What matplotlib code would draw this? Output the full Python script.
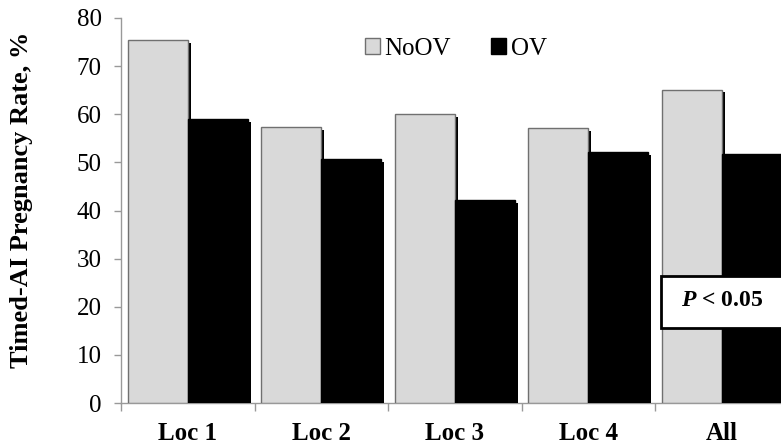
import numpy as np
import matplotlib
matplotlib.use('Agg')
import matplotlib.pyplot as plt
import matplotlib.patheffects as pe
from matplotlib.patches import Rectangle, Patch

# datos
locs = ['Loc 1', 'Loc 2', 'Loc 3', 'Loc 4', 'All']
noov = [75.4, 57.4, 60.0, 57.2, 65.1]
ov = [59.0, 50.7, 42.1, 52.2, 51.7]
yticks = [0, 10, 20, 30, 40, 50, 60, 70, 80]

plt.rcParams['font.family'] = 'Liberation Serif'
plt.rcParams['mathtext.fontset'] = 'custom'
plt.rcParams['mathtext.it'] = 'Liberation Serif:italic:bold'

fig = plt.figure(figsize=(7.81, 4.47), dpi=100)
# el eje se sale un poco del lado derecho, como en la original
ax = fig.add_axes([121/781, 44/447, 667.5/781, 385/447])

x = np.arange(len(locs))
w = 0.45
sombra = [pe.SimplePatchShadow(offset=(2, -2), shadow_rgbFace='black', alpha=1.0), pe.Normal()]

b1 = ax.bar(x - w/2, noov, w, color='#d9d9d9', edgecolor='#707070', linewidth=1.0, zorder=3)
b2 = ax.bar(x + w/2, ov, w, color='black', edgecolor='black', linewidth=1.0, zorder=3)
for b in list(b1) + list(b2):
    b.set_path_effects(sombra)

ax.set_xlim(-0.5, len(locs) - 0.5)
ax.set_ylim(0, 80)
ax.set_yticks(yticks)
ax.tick_params(axis='y', labelsize=18, length=5, width=1, color='#999999', direction='out', pad=9)

# ticks del eje x entre categorias
ax.set_xticks(np.arange(len(locs) + 1) - 0.5)
ax.set_xticklabels([])
ax.tick_params(axis='x', length=6, width=1, color='#999999', direction='out')
for i, nombre in enumerate(locs):
    ax.text(i, -6.3, nombre, ha='center', va='center', fontsize=18, fontweight='bold',
            clip_on=False)

for s in ['top', 'right']:
    ax.spines[s].set_visible(False)
for s in ['left', 'bottom']:
    ax.spines[s].set_color('#999999')
    ax.spines[s].set_linewidth(1)

ax.set_ylabel('Timed-AI Pregnancy Rate, %', fontsize=19, fontweight='bold')
ax.yaxis.set_label_coords(-0.132, 0.527)

# leyenda sin sombra
handles = [Patch(facecolor='#d9d9d9', edgecolor='#707070', label='NoOV'),
           Patch(facecolor='black', edgecolor='black', label='OV')]
ax.legend(handles=handles, loc='center left', bbox_to_anchor=(0.35, 0.92), ncol=2,
          frameon=False, fontsize=18, handlelength=0.6, handleheight=0.6,
          handletextpad=0.2, columnspacing=1.6, borderaxespad=0)

# recuadro con el valor P
ax.add_patch(Rectangle((3.545, 15.6), 1.2, 10.8, facecolor='white', edgecolor='black',
                       linewidth=2, zorder=5, clip_on=False))
ax.text(4.0, 21.2, r'$\mathit{P}$ < 0.05', ha='center', va='center', fontsize=17,
        fontweight='bold', zorder=6)

fig.savefig('out.png', dpi=100)
